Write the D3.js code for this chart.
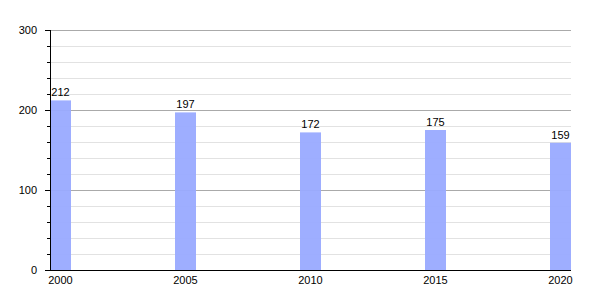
<!DOCTYPE html>
<html>
<head>
<meta charset="utf-8">
<script src="https://cdn.jsdelivr.net/npm/d3@7"></script>
<style>
  body { margin: 0; background: #fff; }
  text { font-family: "Liberation Sans", Arial, sans-serif; font-size: 11px; fill: #000; }
</style>
</head>
<body>
<svg id="chart" width="600" height="300"></svg>
<script>
var years = [2000, 2005, 2010, 2015, 2020];
var values = [212, 197, 172, 175, 159];
var majorTicks = [0, 100, 200, 300];
var minorTicks = d3.range(0, 301, 20);

var svg = d3.select("#chart"),
    plotLeft = 50, plotRight = 571, plotTop = 30, plotBottom = 270,
    barW = 21;

var x = d3.scaleLinear().domain([2000, 2020]).range([plotLeft, plotRight - barW]);
var y = d3.scaleLinear().domain([0, 300]).range([plotBottom, plotTop]);

//
// grid
svg.append("g").selectAll("line")
  .data(minorTicks.filter((d) => d % 100 !== 0))
  .enter().append("line")
  .attr("x1", plotLeft).attr("x2", plotRight)
  .attr("y1", (d) => y(d) + 0.5).attr("y2", (d) => y(d) + 0.5)
  .attr("stroke", "#e2e2e2");
svg.append("g").selectAll("line")
  .data(majorTicks.filter((d) => d > 0))
  .enter().append("line")
  .attr("x1", plotLeft).attr("x2", plotRight)
  .attr("y1", (d) => y(d) + 0.5).attr("y2", (d) => y(d) + 0.5)
  .attr("stroke", "#aaaaaa");

//
// bars
svg.append("g").selectAll("rect")
  .data(years)
  .enter().append("rect")
  .attr("x", (d) => x(d))
  .attr("width", barW)
  .attr("y", (d, i) => y(values[i]))
  .attr("height", (d, i) => plotBottom - y(values[i]))
  .attr("fill", "#99aaff")
  .attr("fill-opacity", 0.95);

// value labels
svg.append("g").selectAll("text")
  .data(years)
  .enter().append("text")
  .attr("x", (d) => x(d) + barW / 2)
  .attr("y", (d, i) => y(values[i]) - 4)
  .attr("text-anchor", "middle")
  .text((d, i) => values[i]);

//
// axes
svg.append("g").selectAll("line")
  .data(minorTicks)
  .enter().append("line")
  .attr("x1", (d) => d % 100 === 0 ? plotLeft - 5 : plotLeft - 3).attr("x2", plotLeft)
  .attr("y1", (d) => y(d) + 0.5).attr("y2", (d) => y(d) + 0.5)
  .attr("stroke", "#000");
svg.append("line")
  .attr("x1", plotLeft + 0.5).attr("x2", plotLeft + 0.5)
  .attr("y1", plotTop).attr("y2", plotBottom)
  .attr("stroke", "#000");
svg.append("line")
  .attr("x1", plotLeft).attr("x2", plotRight)
  .attr("y1", plotBottom + 0.5).attr("y2", plotBottom + 0.5)
  .attr("stroke", "#000");

svg.append("g").selectAll("text")
  .data(majorTicks)
  .enter().append("text")
  .attr("x", plotLeft - 13)
  .attr("y", (d) => y(d) + 4)
  .attr("text-anchor", "end")
  .text((d) => d);

svg.append("g").selectAll("text")
  .data(years)
  .enter().append("text")
  .attr("x", (d) => x(d) + barW / 2)
  .attr("y", plotBottom + 14)
  .attr("text-anchor", "middle")
  .text((d) => d);
</script>
</body>
</html>
